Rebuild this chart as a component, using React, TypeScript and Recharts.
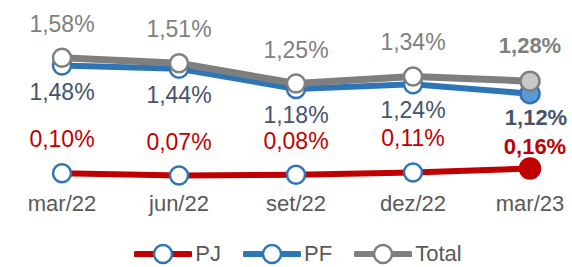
import React from 'react'
import { LineChart, Line, XAxis, YAxis, Legend, LabelList } from 'recharts'

// trimestres
const periods = ['mar/22', 'jun/22', 'set/22', 'dez/22', 'mar/23']

// inadimplência (%)
const pj = [0.1, 0.07, 0.08, 0.11, 0.16]
const pf = [1.48, 1.44, 1.18, 1.24, 1.12]
const total = [1.58, 1.51, 1.25, 1.34, 1.28]

const chartData = periods.map((p, i) => ({
  period: p,
  PJ: pj[i],
  PF: pf[i],
  Total: total[i]
}))

const FONT = '"Liberation Sans", Arial, sans-serif'
const LAST = periods.length - 1

const fmt = (v: number) => v.toFixed(2).replace('.', ',') + '%'

// configuração visual de cada série
const seriesStyle: Record<string, any> = {
  PJ: { line: '#C00000', marker: '#2E75B6', lastFill: '#C00000', lastStroke: '#C00000', lastR: 10, text: '#C00000', dy: -26, lastDx: 5, lastDy: -15 },
  PF: { line: '#2E75B6', marker: '#2E75B6', lastFill: '#5B9BD5', lastStroke: '#2E75B6', lastR: 9.5, text: '#44546A', dy: 34, lastDx: 6, lastDy: 31 },
  Total: { line: '#7F7F7F', marker: '#7F7F7F', lastFill: '#C8C8C8', lastStroke: '#7F7F7F', lastR: 9.5, text: '#7F7F7F', dy: -26, lastDx: 0, lastDy: -28 }
}

const makeDot = (key: string) => (props: any) => {
  const s = seriesStyle[key]
  const { cx, cy, index } = props
  const last = index === LAST
  return (
    <circle
      key={`${key}-dot-${index}`}
      cx={cx}
      cy={cy}
      r={last ? s.lastR : 9}
      fill={last ? s.lastFill : '#FFFFFF'}
      stroke={last ? s.lastStroke : s.marker}
      strokeWidth={2.5}
    />
  )
}

const makeLabel = (key: string) => (props: any) => {
  const s = seriesStyle[key]
  const { x, y, value, index } = props
  const last = index === LAST
  return (
    <text
      key={`${key}-lbl-${index}`}
      x={x + (last ? s.lastDx : 0)}
      y={y + (last ? s.lastDy : s.dy)}
      textAnchor="middle"
      fill={s.text}
      fontSize={last ? 22 : 23}
      fontWeight={last ? 700 : 400}
      fontFamily={FONT}
    >
      {fmt(value)}
    </text>
  )
}

const LegendContent = () => (
  <div style={{ display: 'flex', justifyContent: 'center', alignItems: 'center', height: 26, paddingLeft: 26, fontFamily: FONT, fontSize: 22, color: '#595959' }}>
    {['PJ', 'PF', 'Total'].map((k) => {
      const s = seriesStyle[k]
      return (
        <div key={k} style={{ display: 'flex', alignItems: 'center', marginRight: 22 }}>
          <svg width={58} height={24}>
            <line x1={2} y1={12} x2={56} y2={12} stroke={s.line} strokeWidth={6} strokeLinecap="round" />
            <circle cx={29} cy={12} r={9} fill="#FFFFFF" stroke={s.marker} strokeWidth={2.5} />
          </svg>
          <span style={{ marginLeft: 3 }}>{k}</span>
        </div>
      )
    })}
  </div>
)

export default function App() {
  return (
    <div style={{ position: 'absolute', left: 0, top: 0, background: '#fff' }}>
      <LineChart width={572} height={267} data={chartData} margin={{ top: 25, right: 42, bottom: 0, left: 62 }}>
        <XAxis
          dataKey="period"
          axisLine={false}
          tickLine={false}
          height={60}
          tickMargin={8}
          tick={{ fill: '#595959', fontSize: 22, fontFamily: FONT }}
          interval={0}
        />
        <YAxis hide domain={[0, 2]} />
        <Legend verticalAlign="bottom" height={26} content={<LegendContent />} />
        {(['PJ', 'PF', 'Total'] as const).map((k) => (
          <Line
            key={k}
            dataKey={k}
            type="linear"
            stroke={seriesStyle[k].line}
            strokeWidth={k === 'Total' ? 7 : 6}
            dot={makeDot(k)}
            activeDot={false}
            isAnimationActive={false}
          >
            <LabelList dataKey={k} content={makeLabel(k)} />
          </Line>
        ))}
      </LineChart>
    </div>
  )
}
